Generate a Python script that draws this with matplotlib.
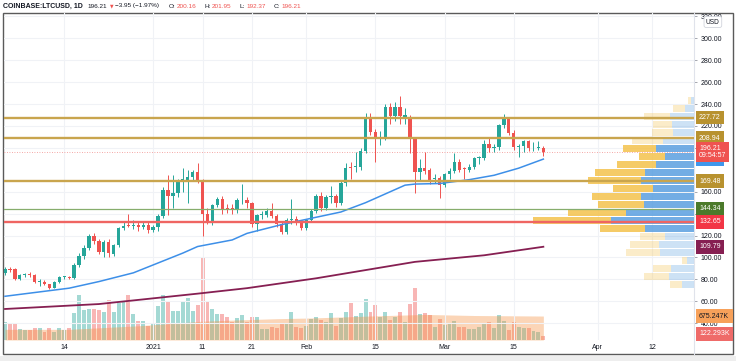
import numpy as np
import pandas as pd
import matplotlib as mpl
mpl.use('Agg')
import matplotlib.pyplot as plt
import matplotlib.dates as mdates
import matplotlib.transforms as mtransforms
from matplotlib import font_manager
from matplotlib.patches import Rectangle
from matplotlib.lines import Line2D

W_PX, H_PX = 736, 361

# ---------------------------------------------------------------------------
# Data (COINBASE:LTCUSD daily)
# ---------------------------------------------------------------------------
START = '2020-12-02'

OPEN = [86, 89.5, 89.5, 80, 84, 84.5, 84, 77.5, 78, 75.5,
        72.3, 77.7, 82, 82.5, 81, 93, 101, 109, 120, 115,
        105, 114, 103.5, 111, 127, 129, 128.5, 130, 128, 130,
        125, 127.5, 138, 162, 156, 159, 170.5, 171, 173, 178,
        171, 139.5, 133, 148, 153, 144.5, 145.5, 143, 152, 152.5,
        150, 131, 138.5, 139, 142, 138, 131, 123, 134, 135,
        133, 126.5, 134, 142, 156, 145, 155, 156, 150, 168,
        182.5, 182.5, 183, 197, 227, 214.5, 208.5, 210, 237.5, 229,
        237.5, 228.5, 228, 209, 178, 181.5, 180, 171.5, 172.5, 166,
        176, 179, 187, 181, 180, 183, 191, 191, 204, 200,
        201, 221, 226, 214, 201, 201.5, 206, 199.5, 200, 200.16]
HIGH = [91, 91, 90, 84.5, 86, 86.5, 85, 80, 79, 76,
        78.5, 83, 83, 83.5, 95, 104, 111, 121, 122, 117,
        116, 117, 112, 128, 133, 140, 134, 132, 132, 132,
        130, 140, 164, 175, 175, 172, 182, 180, 180, 186,
        172, 145, 149, 155, 156, 149, 149, 154, 167, 155,
        151, 140, 142, 145, 150, 140, 133, 136, 153, 138,
        134, 135, 144, 158, 160, 157, 165, 158, 170, 186,
        187, 196, 200, 232, 232, 217, 215, 240, 241, 242,
        247, 236, 230, 210, 190, 196, 182, 176, 174, 177,
        182, 195, 190, 183, 185, 192, 193, 207, 210, 204,
        222, 231, 227, 216, 204, 207, 207, 205, 206, 201.95]
LOW = [84, 87, 79, 79, 82.5, 82, 76.5, 74, 74.5, 71.5,
       72, 77, 80.5, 80, 80, 91, 99, 107, 112, 103,
       100, 100, 101, 110, 125, 128, 126, 124, 126, 122,
       123, 124, 136, 139, 145, 155, 160, 150, 170, 168,
       120, 131, 130, 146, 140, 141, 140, 141, 149, 145,
       128, 124, 135, 137, 136, 128, 121, 121, 131, 130,
       125, 125, 132, 141, 142, 143, 150, 146, 148, 165,
       172, 178, 180, 195, 212, 187, 203, 207, 222, 225,
       222, 222, 195, 159, 171, 176, 167, 168, 154, 164,
       172, 177, 178, 172, 178, 181, 185, 189, 196, 196,
       198, 218, 212, 198, 192, 196, 197, 197, 198, 192.37]
CLOSE = [89.5, 89, 80, 84, 84.5, 84, 77.5, 78.5, 75.5, 72.3,
         77.7, 82, 82.3, 81, 93, 101, 109, 120, 115, 105,
         114, 104, 111, 127, 129, 128.5, 129.5, 128, 129.5, 125,
         127.5, 138, 162, 156, 159, 170, 171, 173, 178, 171,
         140, 133.5, 148, 153, 144, 144, 143, 152.5, 152.5, 150,
         130.5, 138.5, 139.5, 142, 138, 131, 123, 134, 135, 133,
         126.5, 134, 142, 156, 145, 155.5, 155.5, 150, 168, 182,
         182, 183, 197, 227, 214.5, 208, 209.5, 237.5, 229, 237.5,
         229, 230, 209, 178, 181.5, 179, 171, 172, 166, 176,
         179, 187, 180, 180.5, 183, 191, 191.5, 204, 200, 201,
         221, 226, 214, 201, 201.5, 206, 199.5, 200, 200.16, 196.21]
VOLUME_M = [0.50, 0.45, 0.45, 0.31, 0.29, 0.29, 0.35, 0.33, 0.23, 0.35,
            0.23, 0.33, 0.29, 0.33, 0.77, 1.27, 0.85, 0.87, 0.86, 0.85,
            0.80, 1.13, 0.78, 1.03, 1.06, 1.27, 0.73, 0.54, 0.53, 0.39,
            0.49, 0.96, 1.27, 1.11, 0.83, 0.83, 1.06, 1.17, 0.83, 0.99,
            2.34, 1.08, 0.87, 0.73, 0.73, 0.64, 0.52, 0.61, 0.70, 0.52,
            0.64, 0.64, 0.30, 0.30, 0.38, 0.35, 0.44, 0.44, 0.78, 0.37,
            0.33, 0.39, 0.58, 0.64, 0.56, 0.52, 0.75, 0.39, 0.62, 0.78,
            1.03, 0.68, 0.75, 1.15, 0.78, 0.99, 0.66, 0.80, 0.56, 0.64,
            0.78, 0.52, 1.01, 1.46, 0.72, 0.75, 0.70, 0.37, 0.58, 0.42,
            0.49, 0.53, 0.38, 0.38, 0.30, 0.30, 0.37, 0.45, 0.50, 0.35,
            0.71, 0.53, 0.29, 0.50, 0.37, 0.33, 0.33, 0.25, 0.23, 0.122]

# moving averages, read at a handful of candles (candle index, value)
MA50_IDX = [0, 13, 19, 26, 31, 36, 39, 46, 49, 56, 68, 73, 78, 81, 83, 88, 94, 99, 104, 109]
MA50_VAL = [64.6, 72, 78, 86, 95, 104, 110, 116, 122, 130, 141.5, 150, 160, 166, 167, 167.5,
            171, 175, 181.5, 189.78]
MA200_IDX = [0, 19, 39, 49, 63, 73, 83, 97, 109]
MA200_VAL = [53, 57.5, 67, 72, 81, 88.5, 96, 102, 109.79]
VOLMA_IDX = [0, 13, 20, 27, 34, 40, 46, 55, 62, 75, 85, 95, 109]
VOLMA_VAL = [0.30, 0.30, 0.35, 0.40, 0.47, 0.53, 0.56, 0.60, 0.62, 0.68, 0.72, 0.69, 0.675]

# horizontal levels
GOLD_LEVELS = [227.72, 208.94, 169.48]
GREEN_LEVEL = 144.34
RED_LEVEL = 132.65

# volume profile (24 rows, bottom -> top), widths in relative units
VP_UP = [12, 25, 23, 7, 34, 35, 29, 49, 83, 68, 50, 53, 41, 53, 49, 38, 29, 38, 31, 21, 22, 24, 9, 3]
VP_DOWN = [12, 25, 18, 5, 34, 29, 25, 45, 78, 58, 46, 49, 40, 53, 50, 39, 26, 33, 31, 21, 19, 26, 12, 3]
VP_VALUE_AREA = (7, 17)   # rows inside value area (inclusive)

TICK_DATES = ['2020-12-14', '2021-01-01', '2021-01-11', '2021-01-21', '2021-02-01',
              '2021-02-15', '2021-03-01', '2021-03-15', '2021-04-01', '2021-04-12']
TICK_LABELS = ['14', '2021', '11', '21', 'Feb', '15', 'Mar', '15', 'Apr', '12']
PRICE_TICKS = [40, 60, 80, 100, 120, 140, 160, 200, 220, 240, 260, 280, 300, 320]

# header pieces: text, colour, bold, gap after (px)
HEADER = [('COINBASE:LTCUSD, 1D', '#131722', True, 5.0),
          ('196.21', '#131722', False, 2.5),
          ('\u25bc', '#ef5350', False, 2.0),
          ('\u22123.95 (\u22121.97%)', '#131722', False, 9.0),
          ('O:', '#131722', False, 1.5),
          ('200.16', '#ef5350', False, 8.0),
          ('H:', '#131722', False, 1.5),
          ('201.95', '#ef5350', False, 8.0),
          ('L:', '#131722', False, 1.5),
          ('192.37', '#ef5350', False, 8.0),
          ('C:', '#131722', False, 1.5),
          ('196.21', '#ef5350', False, 0.0)]

UP_C = '#26a69a'
DN_C = '#ef5350'

_names = {f.name for f in font_manager.fontManager.ttflist}
if 'Liberation Sans Narrow' in _names:
    FONT, FS, HFS, NFS = 'Liberation Sans Narrow', 5.5, 5.4, 5.8
else:
    FONT, FS, HFS, NFS = 'Liberation Sans', 5.0, 4.6, 5.0


def fx(px):
    return px / W_PX


def fy(py):
    return 1 - py / H_PX


def main():
    plt.rcParams['font.family'] = [FONT, 'DejaVu Sans']
    fig = plt.figure(figsize=(W_PX / 100, H_PX / 100), dpi=100)
    fig.patch.set_facecolor('white')

    dates = pd.date_range(START, periods=len(CLOSE), freq='D')
    x = mdates.date2num(dates)
    o, h, l, c = map(np.asarray, (OPEN, HIGH, LOW, CLOSE))
    up = c >= o

    rect = [fx(3.5), fy(340), fx(694) - fx(3.5), fy(13) - fy(340)]
    vol_ax = fig.add_axes(rect, label='vol')
    ax = fig.add_axes(rect, label='price', sharex=vol_ax)
    prof_ax = fig.add_axes(rect, label='profile', sharey=ax)
    vol_ax.set_zorder(0)
    ax.set_zorder(1)
    prof_ax.set_zorder(2)
    ax.patch.set_visible(False)
    prof_ax.patch.set_visible(False)

    xlim = (x[0] - 0.3, x[-1] + 30.5)
    ylim = (24.7, 323.1)

    # --- volume -----------------------------------------------------------
    vol_ax.bar(x, VOLUME_M, width=0.8,
               color=np.where(up, UP_C, DN_C), alpha=0.42, linewidth=0)
    vx = x[VOLMA_IDX]
    vol_ax.fill_between(vx, 0, VOLMA_VAL, color='#f59342', alpha=0.38, linewidth=0)
    vol_ax.set_ylim(0, 9.21)
    vol_ax.set_xlim(*xlim)
    vol_ax.axis('off')

    # --- price ------------------------------------------------------------
    ax.set_xlim(*xlim)
    ax.set_ylim(*ylim)
    for s in ax.spines.values():
        s.set_visible(False)
    ax.grid(True, color='#f0f2f6', linewidth=0.8, zorder=0)
    ax.set_axisbelow(True)

    ax.set_xticks(mdates.date2num(pd.to_datetime(TICK_DATES)))
    ax.set_xticklabels(TICK_LABELS)
    ax.tick_params(axis='x', length=0, pad=2.6, labelsize=FS, labelcolor='#131722')
    ax.yaxis.tick_right()
    ax.set_yticks(PRICE_TICKS)
    ax.set_yticklabels([f'{v:.2f}' for v in PRICE_TICKS])
    ax.tick_params(axis='y', length=2.2, width=0.6, color='#9598a1', pad=2.6,
                   labelsize=FS, labelcolor='#131722')

    cols = np.where(up, UP_C, DN_C)
    ax.vlines(x, l, h, colors=cols, linewidth=0.7, zorder=3)
    body_lo = np.minimum(o, c)
    body_h = np.maximum(np.abs(c - o), 0.8)
    ax.bar(x, body_h, bottom=body_lo, width=0.68, color=cols, linewidth=0, zorder=4)

    ax.plot(x[MA50_IDX], MA50_VAL, color='#3d8fe8', linewidth=1.1, zorder=5)
    ax.plot(x[MA200_IDX], MA200_VAL, color='#861f52', linewidth=1.3, zorder=5)

    # current price dotted line
    ax.axhline(CLOSE[-1], color='#f28b89', linewidth=0.6, linestyle=(0, (1, 2)), zorder=2)

    # --- volume profile ---------------------------------------------------
    lo, hi = min(LOW), max(HIGH)
    edges = np.linspace(lo, hi, len(VP_UP) + 1)
    row_h = edges[1] - edges[0]
    for k, (u, d) in enumerate(zip(VP_UP, VP_DOWN)):
        in_va = VP_VALUE_AREA[0] <= k <= VP_VALUE_AREA[1]
        a = 0.85 if in_va else 0.3
        prof_ax.barh(edges[k] + 0.45, u, height=row_h - 0.9, left=0, align='edge',
                     color='#5a9fe0', alpha=a, linewidth=0)
        prof_ax.barh(edges[k] + 0.45, d, height=row_h - 0.9, left=u, align='edge',
                     color='#f4c24c', alpha=a, linewidth=0)
    prof_ax.set_xlim(690.5, 0)
    prof_ax.axis('off')

    for lv in GOLD_LEVELS:
        prof_ax.axhline(lv, color='#c9a54e', linewidth=1.7)
    prof_ax.axhline(GREEN_LEVEL, color='#86ad6c', linewidth=0.9)
    prof_ax.axhline(RED_LEVEL, color='#ef6562', linewidth=1.7)

    # --- right axis labels ------------------------------------------------
    tr = mtransforms.blended_transform_factory(prof_ax.transAxes, ax.transData)
    lx = (699.0 - 3.5) / 690.5

    def tag(price, text, bg, fg='white', pad=0.5, trans=tr):
        prof_ax.text(lx, price, text, transform=trans, ha='left', va='center',
                     fontsize=FS, color=fg, clip_on=False, zorder=10, linespacing=1.0,
                     bbox=dict(boxstyle=f'square,pad={pad}', fc=bg, ec='none'))

    tag(227.72, '227.72', '#b8922f')
    tag(208.94, '208.94', '#b8922f')
    tag(189.78, '189.78', '#3f97ec')
    tag(169.48, '169.48', '#b8922f')
    tag(144.34, '144.34', '#4b7a2b')
    tag(132.65, '132.65', '#f23645')
    tag(109.79, '109.79', '#861f52')
    tag(CLOSE[-1], '196.21\n09:54:57', '#ef5350', pad=0.45)

    trv = mtransforms.blended_transform_factory(prof_ax.transAxes, vol_ax.transData)
    tag(VOLMA_VAL[-1], '675.247K', '#f7a15a', fg='#131722', trans=trv)
    tag(0.18, '122.293K', '#ef6b69', trans=trv)

    # USD box
    fig.text(fx(706), fy(22), 'USD', fontsize=FS - 0.3, color='#131722', ha='left', va='center',
             bbox=dict(boxstyle='round,pad=0.3,rounding_size=0.3', fc='white', ec='#d1d4dc', lw=0.6),
             zorder=20)

    # --- frame -------------------------------------------------------------
    fig.add_artist(Line2D([fx(694), fx(694)], [fy(13), fy(354)], color='#e0e3eb', lw=0.8))
    fig.add_artist(Rectangle((fx(3), fy(354)), fx(732.5) - fx(3), fy(13) - fy(354),
                             fill=False, ec='#5a5a5a', lw=1.0, transform=fig.transFigure))
    fig.add_artist(Rectangle((0, 0), 1, fy(355.5), fc='#eeeeee', ec='none',
                             transform=fig.transFigure))

    # --- header (laid out left to right, measured so nothing collides) ------
    renderer = fig.canvas.get_renderer()
    cur = 3.0
    for i, (txt, col, bold, gap) in enumerate(HEADER):
        is_arrow = txt == '\u25bc'
        fam = ['DejaVu Sans'] if is_arrow else [FONT, 'DejaVu Sans']
        size = HFS * 0.72 if is_arrow else (NFS if i == 0 else HFS)
        t = fig.text(fx(cur), fy(6), txt, fontsize=size, color=col,
                     fontweight='bold' if bold else 'normal',
                     ha='left', va='center', family=fam)
        bb = t.get_window_extent(renderer)
        cur = bb.x1 + gap

    fig.savefig('out.png', dpi=100)


if __name__ == '__main__':
    main()
